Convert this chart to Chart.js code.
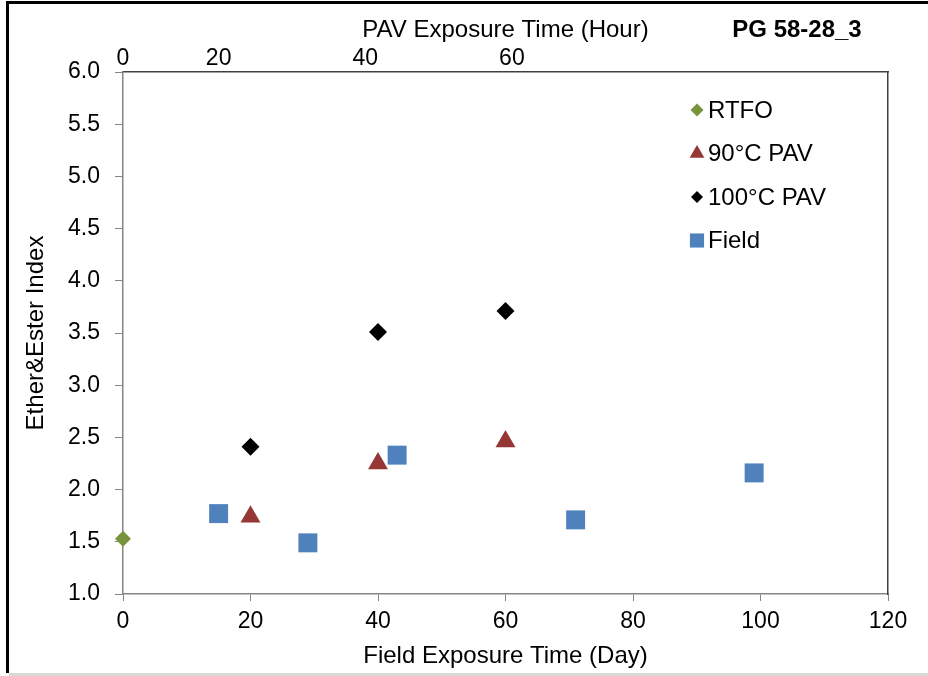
<!DOCTYPE html>
<html>
<head>
<meta charset="utf-8">
<script src="https://cdn.jsdelivr.net/npm/chart.js@4"></script>
<style>
  html, body { margin: 0; padding: 0; background: #fff; }
</style>
</head>
<body>
<canvas id="chart" width="928" height="676"></canvas>
<script>
// values
const rtfoDays = [0];
const rtfoIndex = [1.53];
const pav90Hours = [20, 40, 60];
const pav90Index = [1.74, 2.25, 2.46];
const pav100Hours = [20, 40, 60];
const pav100Index = [2.41, 3.51, 3.71];
const fieldDays = [15, 29, 43, 71, 99];
const fieldIndex = [1.77, 1.49, 2.33, 1.71, 2.16];

// top axis labels sit where they do in the original (day scale positions)
const topTickLabels = ['0', '20', '40', '60'];
const topTickDays = [0, 15, 38, 61];

const FONT = "'Liberation Sans', Arial, sans-serif";
Chart.defaults.font.family = FONT;
Chart.defaults.color = '#000';

function pts(xs, ys) {
    return xs.map((x, i) => ({ x: x, y: ys[i] }));
}

const datasets = [
    { label: 'RTFO', data: pts(rtfoDays, rtfoIndex), pointStyle: 'rectRot', radius: 8,
      backgroundColor: '#77933C', borderColor: '#77933C', legendRadius: 6.5 },
    { label: '90°C PAV', data: pts(pav90Hours, pav90Index), pointStyle: 'triangle', radius: 11.5,
      backgroundColor: '#953735', borderColor: '#953735', legendRadius: 8.5 },
    { label: '100°C PAV', data: pts(pav100Hours, pav100Index), pointStyle: 'rectRot', radius: 9,
      backgroundColor: '#000', borderColor: '#000', legendRadius: 6 },
    { label: 'Field', data: pts(fieldDays, fieldIndex), pointStyle: 'rect', radius: 13.4,
      backgroundColor: '#4F81BD', borderColor: '#4F81BD', legendRadius: 10 }
];
datasets.forEach(d => { d.borderWidth = 0; d.hoverRadius = d.radius; d.clip = false; });

const framePlugin = {
    id: 'frame',
    beforeDraw(chart) {
        const ctx = chart.ctx;
        ctx.save();
        ctx.fillStyle = '#fff';
        ctx.fillRect(0, 0, chart.width, chart.height);
        ctx.fillStyle = '#000';
        ctx.fillRect(6, 1, chart.width - 6, 3);
        ctx.fillRect(6, 1, 3, 672);
        ctx.fillStyle = '#d9d9d9';
        ctx.fillRect(9, 673, chart.width - 9, 3);
        ctx.restore();
    },
    afterDraw(chart) {
        const ctx = chart.ctx;
        const area = chart.chartArea;
        ctx.save();
        ctx.fillStyle = '#000';
        ctx.textBaseline = 'middle';
        ctx.textAlign = 'center';
        ctx.font = 'bold 24px ' + FONT;
        ctx.fillText('PG 58-28_3', 797, 30);

        ctx.textAlign = 'left';
        ctx.font = '24px ' + FONT;
        chart.data.datasets.forEach((ds, i) => {
            const y = area.top + 38 + i * 43.5;
            const x = area.left + 574;
            ctx.fillStyle = ds.backgroundColor;
            Chart.helpers.drawPoint(ctx, { pointStyle: ds.pointStyle, radius: ds.legendRadius, rotation: 0, borderWidth: 0 }, x, y);
            ctx.fillStyle = '#000';
            ctx.fillText(ds.label, x + 11, y + 1);
        });
        ctx.restore();
    }
};

new Chart(document.getElementById('chart'), {
    type: 'scatter',
    data: { datasets: datasets },
    options: {
        responsive: false,
        animation: false,
        layout: { padding: 0 },
        plugins: { legend: { display: false }, tooltip: { enabled: false } },
        scales: {
            x: {
                type: 'linear', position: 'bottom', min: 0, max: 120,
                ticks: { stepSize: 20, font: { size: 23 }, padding: 7, maxRotation: 0 },
                grid: { drawOnChartArea: false, color: '#868686', tickLength: 7 },
                border: { color: '#868686', width: 1.5 },
                title: { display: true, text: 'Field Exposure Time (Day)', font: { size: 24 }, padding: { top: 0, bottom: 5 } },
                afterFit: s => { s.height = 82; }
            },
            x2: {
                type: 'linear', position: 'top', min: 0, max: 120,
                afterBuildTicks: s => { s.ticks = topTickDays.map(v => ({ value: v })); },
                ticks: { callback: (v, i) => topTickLabels[i], font: { size: 23 }, padding: 0, autoSkip: false, maxRotation: 0 },
                grid: { display: false, drawTicks: false },
                border: { color: '#404040', width: 1.5 },
                title: { display: true, text: 'PAV Exposure Time (Hour)', font: { size: 24 }, padding: { top: 16, bottom: 0 } },
                afterFit: s => { s.height = 72; }
            },
            y: {
                type: 'linear', position: 'left', min: 1, max: 6,
                ticks: { stepSize: 0.5, font: { size: 23 }, padding: 15, callback: v => v.toFixed(1) },
                grid: { drawOnChartArea: false, color: '#868686', tickLength: 8 },
                border: { color: '#868686', width: 1.5 },
                title: { display: true, text: 'Ether&Ester Index', font: { size: 24 }, padding: { top: 22, bottom: 0 } },
                afterFit: s => { s.width = 123; }
            },
            y2: {
                type: 'linear', position: 'right',
                ticks: { display: false },
                grid: { display: false, drawTicks: false },
                border: { color: '#404040', width: 1.5 },
                afterFit: s => { s.width = 40; }
            }
        }
    },
    plugins: [framePlugin]
});
</script>
</body>
</html>
